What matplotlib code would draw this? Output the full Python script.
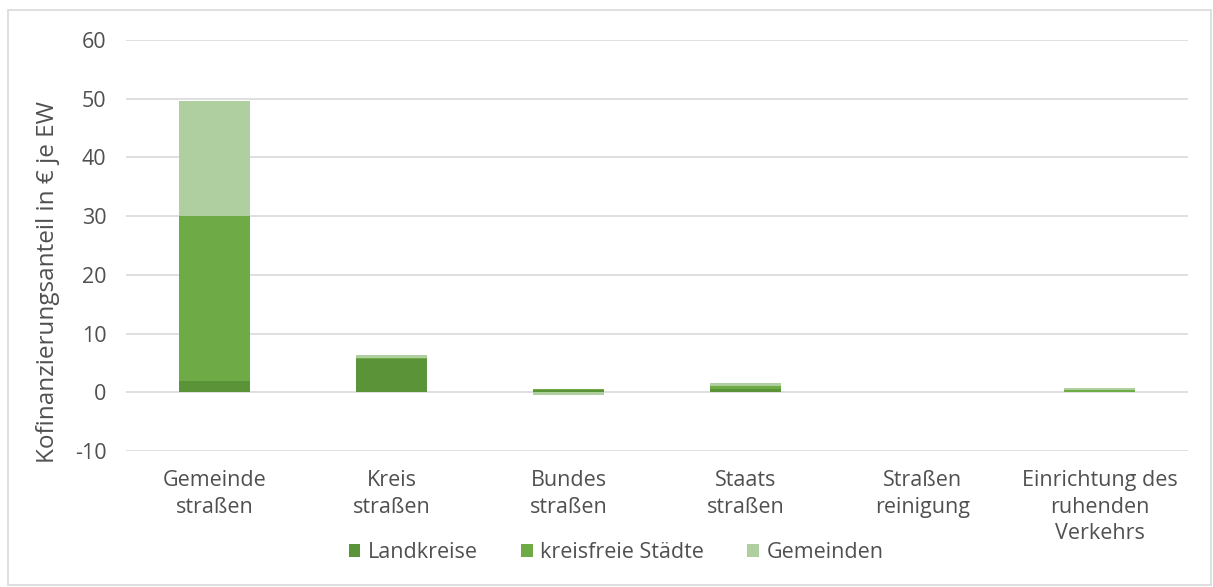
import matplotlib
matplotlib.use("Agg")
import matplotlib.pyplot as plt
import numpy as np
from matplotlib.patches import Rectangle

categories = ["Gemeinde\nstraßen", "Kreis\nstraßen", "Bundes\nstraßen", "Staats\nstraßen",
              "Straßen\nreinigung", "Einrichtung des\nruhenden\nVerkehrs"]
series_names = ["Landkreise", "kreisfreie Städte", "Gemeinden"]
landkreise = [2.0, 5.6, 0.4, 0.6, 0.0, 0.1]
kreisfreie = [28.0, 0.2, 0.1, 0.5, 0.0, 0.3]
gemeinden = [19.6, 0.6, -0.5, 0.4, 0.0, 0.4]
colors = ["#5A9338", "#6EAA45", "#B0CFA0"]
yticks = [-10, 0, 10, 20, 30, 40, 50, 60]

plt.rcParams['font.family'] = ['Open Sans', 'DejaVu Sans']

fig = plt.figure(figsize=(12.13, 5.87), dpi=100)
ax = fig.add_axes([126/1213, 1-451/587, (1188-126)/1213, (451-40)/587])

x = np.arange(len(categories))
pos_bottom = np.zeros(len(categories))
neg_bottom = np.zeros(len(categories))
for name, vals, c in zip(series_names, [landkreise, kreisfreie, gemeinden], colors):
    vals = np.array(vals)
    bottoms = np.where(vals >= 0, pos_bottom, neg_bottom)
    ax.bar(x, vals, bottom=bottoms, width=0.4, color=c, label=name, zorder=3)
    pos_bottom += np.where(vals >= 0, vals, 0)
    neg_bottom += np.where(vals < 0, vals, 0)

tc = '#505050'
ax.set_xlim(-0.5, len(categories) - 0.5)
ax.set_ylim(-10, 60)
ax.set_yticks(yticks)
ax.set_yticklabels([str(t) for t in yticks])
ax.set_xticks(x)
ax.set_xticklabels(categories, linespacing=1.32)
ax.grid(axis='y', color='#D9D9D9', linewidth=1.2, zorder=0)
for s in ax.spines.values():
    s.set_visible(False)
ax.tick_params(axis='both', length=0, labelsize=15.5, colors=tc)
ax.tick_params(axis='x', pad=14)
ax.tick_params(axis='y', pad=14)
ax.set_ylabel("Kofinanzierungsanteil in € je EW", fontsize=17.5, color=tc)
ax.yaxis.set_label_coords(-0.062, 0.41)

leg = fig.legend(loc='center', bbox_to_anchor=(0.508, 1-553/587), ncol=3, frameon=False,
                 fontsize=15.5, handlelength=0.55, handleheight=0.55, handletextpad=0.35,
                 columnspacing=2.0, labelcolor=tc)

fig.patches.append(Rectangle((8/1213, 2/587), 1203/1213, 575/587, transform=fig.transFigure,
                             fill=False, edgecolor='#D9D9D9', linewidth=1.2))

fig.savefig("out.png", dpi=100)
